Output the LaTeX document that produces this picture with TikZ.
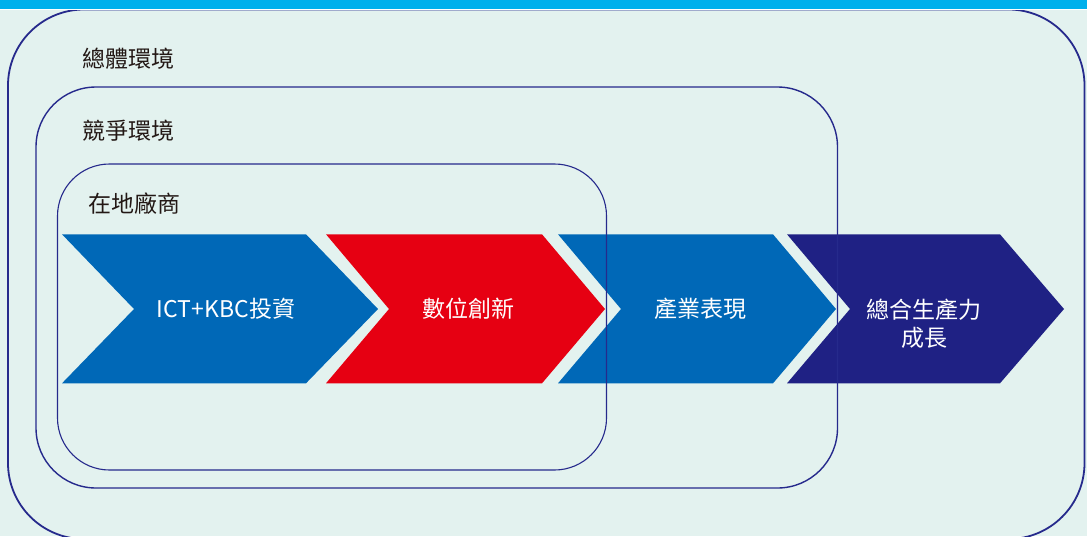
\documentclass[tikz,border=0pt]{standalone}
\usepackage{fontspec}
\setmainfont{Noto Sans CJK TC}
\usepackage{tikz}

\definecolor{bgmint}{HTML}{E3F2EF}
\definecolor{topbar}{HTML}{00B0EC}
\definecolor{framenavy}{HTML}{262A8C}
\definecolor{arrowblue}{HTML}{0068B7}
\definecolor{arrowred}{HTML}{E60012}
\definecolor{arrownavy}{HTML}{1F2184}
\definecolor{labelgray}{HTML}{231815}

% chevron: left x, notch depth, top right x, tip depth, colour
\newcommand{\chevron}[5]{%
  \fill[#5] (#1,234.3) -- (#3,234.3) -- (#3+#4,309) -- (#3,383.3)
            -- (#1,383.3) -- (#1+#2,309) -- cycle;}

\tikzset{
  frame/.style={draw=framenavy,rounded corners=#1},
  ringlabel/.style={anchor=west,inner sep=0pt,text=labelgray,font=\fontsize{23}{27}\selectfont},
  steplabel/.style={align=center,inner sep=0pt,text=white,font=\fontsize{23}{28}\selectfont}
}

\begin{document}
\begin{tikzpicture}[x=1pt,y=-1pt]
  \useasboundingbox (0,0) rectangle (1087,536);
  \fill[bgmint] (0,0) rectangle (1087,536);

  % the four steps
  \chevron{62}{72}{306}{72}{arrowblue}
  \chevron{326}{63}{542}{63}{arrowred}
  \chevron{558}{63}{773}{63}{arrowblue}
  \chevron{787}{63}{1000}{64}{arrownavy}

  \node[steplabel] (invest)  at (226,309) {ICT+KBC投資};
  \node[steplabel] (innov)   at (468,309) {數位創新};
  \node[steplabel] (perform) at (700,309) {產業表現};
  \node[steplabel] (tfp)     at (924,324) {總合生產力\\成長};

  % nested environments
  \draw[frame=76,line width=1.8pt] (8,9.5) rectangle (1084.5,539);
  \draw[frame=60,line width=1.4pt] (36,87) rectangle (837.5,488);
  \draw[frame=52,line width=1.1pt] (57.5,164) rectangle (606.5,470);

  \node[ringlabel] (macro) at (82,59)  {總體環境};
  \node[ringlabel] (compet) at (82,131) {競爭環境};
  \node[ringlabel] (local) at (88,204) {在地廠商};

  % top band
  \fill[white] (0,8.5) rectangle (1087,10.3);
  \fill[topbar] (0,0) rectangle (1087,9);
\end{tikzpicture}
\end{document}
